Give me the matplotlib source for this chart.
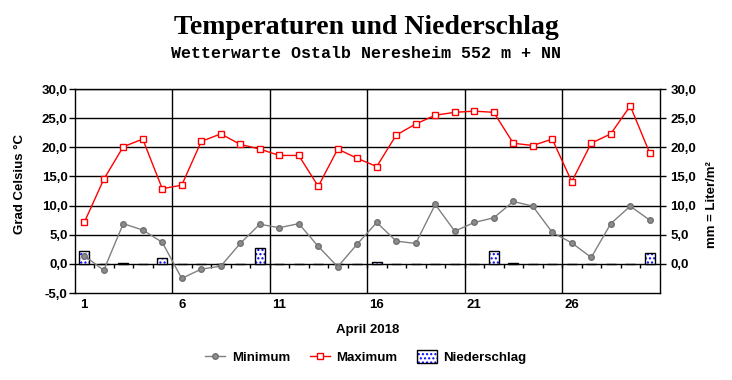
import numpy as np
import matplotlib
matplotlib.use('Agg')
import matplotlib.pyplot as plt
from matplotlib.lines import Line2D
from matplotlib.patches import Patch

# Tageswerte April 2018
days = list(range(1, 31))
t_max = [7.1, 14.5, 20.1, 21.4, 12.9, 13.5, 21.0, 22.3, 20.5, 19.7,
         18.6, 18.6, 13.3, 19.7, 18.1, 16.7, 22.1, 24.0, 25.5, 26.0,
         26.2, 26.0, 20.7, 20.3, 21.4, 14.1, 20.7, 22.3, 27.1, 19.0]
t_min = [1.4, -1.1, 6.9, 5.8, 3.7, -2.5, -0.9, -0.4, 3.5, 6.8,
         6.2, 6.9, 3.0, -0.5, 3.4, 7.1, 3.9, 3.5, 10.2, 5.6,
         7.1, 7.9, 10.7, 9.9, 5.4, 3.6, 1.1, 6.9, 9.9, 7.5]
rain = [2.2, 0.0, 0.1, 0.0, 1.0, 0.0, 0.0, 0.0, 0.0, 2.7,
        0.0, 0.0, 0.0, 0.0, 0.0, 0.3, 0.0, 0.0, 0.0, 0.0,
        0.0, 2.2, 0.1, 0.0, 0.0, 0.0, 0.0, 0.0, 0.0, 1.9]
xtick_days = [1, 6, 11, 16, 21, 26]
yticks = [-5, 0, 5, 10, 15, 20, 25, 30]

plt.rcParams['font.family'] = ['Liberation Sans', 'DejaVu Sans']
plt.rcParams['hatch.linewidth'] = 1.0

fig = plt.figure(figsize=(7.32, 3.80), dpi=100)
ax = fig.add_axes([74.5 / 732, 1 - 293 / 380, 585 / 732, 204 / 380])

ax.set_xlim(0.5, 30.5)
ax.set_ylim(-5, 30)

# Gitter
for y in yticks[1:]:
    ax.axhline(y, color='black', lw=1.0, zorder=1)
for d in xtick_days[1:]:
    ax.axvline(d - 0.5, color='black', lw=1.0, zorder=1)

# kleine Striche an der Nulllinie
for b in np.arange(1.5, 30.5, 1.0):
    ax.plot([b, b], [0, -0.7], color='black', lw=1.0, zorder=2,
            solid_capstyle='butt')

# Niederschlag
ax.bar(days, rain, width=0.5, facecolor='white', edgecolor='#0000ff',
       hatch='....', lw=0, zorder=3)
ax.bar(days, rain, width=0.5, fill=False, edgecolor='black', lw=1.0, zorder=4)

ax.plot(days, t_min, color='#808080', lw=1.0, marker='o', ms=4,
        mfc='#8c8c8c', mec='#707070', zorder=5)
ax.plot(days, t_max, color='#ff0000', lw=1.0, marker='s', ms=4,
        mfc='white', mec='#ff0000', mew=1.0, zorder=6)

for sp in ax.spines.values():
    sp.set_color('black')
    sp.set_linewidth(1.0)

tick_font = dict(fontsize=9.5, fontweight='bold')
ax.set_yticks(yticks)
ax.set_yticklabels([f'{v:.1f}'.replace('.', ',') for v in yticks], **tick_font)
ax.set_xticks(xtick_days)
ax.set_xticklabels([str(d) for d in xtick_days], **tick_font)
ax.tick_params(axis='y', direction='out', length=4, width=1, pad=1)
ax.tick_params(axis='x', length=0, pad=4)

ax2 = ax.twinx()
ax2.set_ylim(-5, 30)
ax2.set_yticks(yticks[1:])
ax2.set_yticklabels([f'{v:.1f}'.replace('.', ',') for v in yticks[1:]], **tick_font)
ax2.tick_params(axis='y', direction='out', length=4, width=1, pad=4)
for sp in ax2.spines.values():
    sp.set_visible(False)

fig.text(0.5, 1 - 27 / 380, 'Temperaturen und Niederschlag', ha='center', va='center',
         fontsize=20, fontweight='bold', family='Liberation Serif')
fig.text(0.5, 1 - 53 / 380, 'Wetterwarte Ostalb Neresheim 552 m + NN', ha='center',
         va='center', fontsize=12, fontweight='bold', family='Liberation Mono')
fig.text(20 / 732, 1 - 184 / 380, 'Grad Celsius °C', rotation=90, ha='center',
         va='center', fontsize=9.5, fontweight='bold')
fig.text(712 / 732, 1 - 205 / 380, 'mm = Liter/m²', rotation=90, ha='center',
         va='center', fontsize=9.5, fontweight='bold')
fig.text(368 / 732, 1 - 330 / 380, 'April 2018', ha='center', va='center',
         fontsize=9.5, fontweight='bold')

h_min = Line2D([], [], color='#808080', lw=1.0, marker='o', ms=4,
               mfc='#8c8c8c', mec='#707070')
h_max = Line2D([], [], color='#ff0000', lw=1.0, marker='s', ms=4,
               mfc='white', mec='#ff0000')
h_rain = (Patch(facecolor='white', edgecolor='#0000ff', hatch='....', lw=0),
          Patch(fill=False, edgecolor='black', lw=1.0))
fig.legend([h_min, h_max, h_rain], ['Minimum', 'Maximum', 'Niederschlag'],
           loc='center', bbox_to_anchor=(366 / 732, 1 - 357 / 380), ncol=3,
           frameon=False, prop=dict(size=9.5, weight='bold'),
           handlelength=1.5, handleheight=1.1, columnspacing=1.5, handletextpad=0.5)

fig.savefig('out.png', dpi=100)
